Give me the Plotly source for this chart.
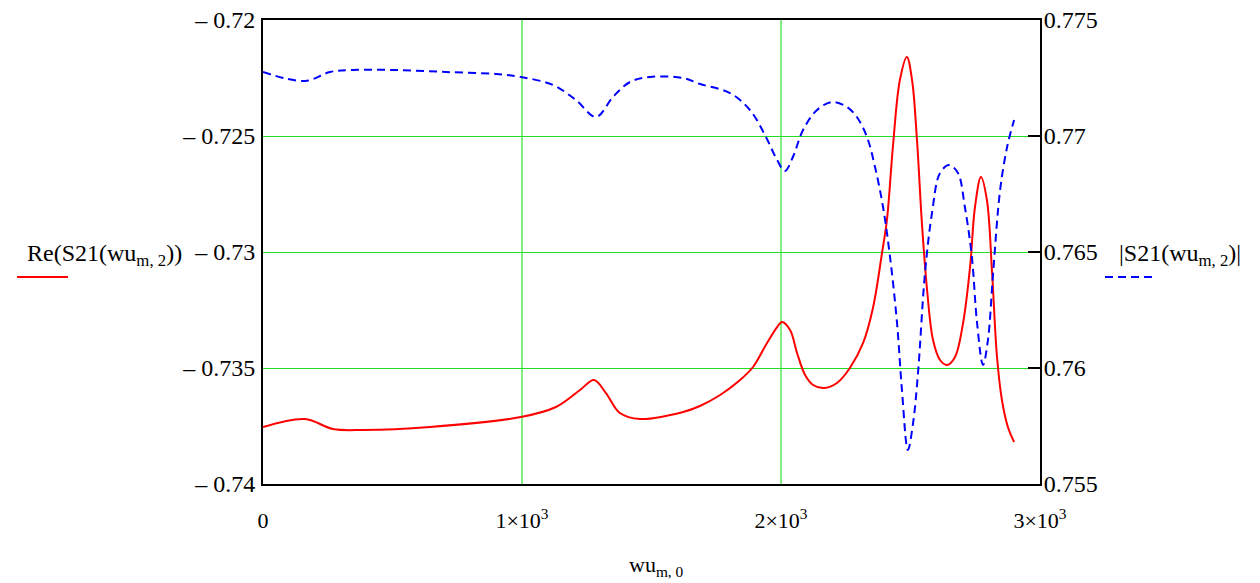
import plotly.graph_objects as go

# x values (wu_{m,0}) and Re(S21)
re_x = [0, 162, 270, 386, 645, 996, 1131, 1224, 1278, 1324, 1378, 1456, 1622, 1687, 1765,
        1842, 1892, 1946, 1985, 2004, 2035, 2062, 2093, 2124, 2166, 2216, 2266, 2317, 2355,
        2390, 2409, 2432, 2459, 2486, 2506, 2525, 2544, 2564, 2587, 2614, 2641, 2672, 2703,
        2730, 2749, 2772, 2795, 2815, 2834, 2853, 2876, 2900]
re_y = [-0.737543, -0.737198, -0.737629, -0.737672, -0.737543, -0.737112, -0.736681,
        -0.735948, -0.735517, -0.736078, -0.736940, -0.737198, -0.736897, -0.736638,
        -0.736164, -0.735517, -0.734957, -0.733922, -0.733233, -0.733017, -0.733362,
        -0.734353, -0.735302, -0.735733, -0.735862, -0.735647, -0.735000, -0.733922,
        -0.732414, -0.730043, -0.728621, -0.725474, -0.722586, -0.721595, -0.722586,
        -0.725172, -0.728750, -0.731638, -0.733793, -0.734655, -0.734871, -0.734526,
        -0.733060, -0.730647, -0.728060, -0.726767, -0.727759, -0.730905, -0.734526,
        -0.736379, -0.737543, -0.738190]

# |S21|
ab_x = [0, 162, 259, 347, 514, 707, 900, 996, 1120, 1208, 1286, 1351, 1417, 1494, 1622,
        1687, 1803, 1880, 1938, 1985, 2015, 2046, 2085, 2139, 2197, 2255, 2293, 2332, 2363,
        2394, 2421, 2448, 2467, 2490, 2510, 2529, 2556, 2583, 2614, 2649, 2683, 2710, 2737,
        2757, 2780, 2799, 2819, 2846, 2873, 2900]
ab_y = [0.772759, 0.772371, 0.772759, 0.772845, 0.772845, 0.772759, 0.772672, 0.772543,
        0.772198, 0.771552, 0.770819, 0.771681, 0.772328, 0.772543, 0.772500, 0.772241,
        0.771853, 0.771121, 0.770043, 0.768966, 0.768491, 0.769095, 0.770259, 0.771121,
        0.771466, 0.771250, 0.770819, 0.769957, 0.768664, 0.766940, 0.764784, 0.761940,
        0.759052, 0.756466, 0.757629, 0.759784, 0.764095, 0.766681, 0.768405, 0.768750,
        0.768405, 0.766940, 0.764784, 0.761940, 0.760129, 0.761207, 0.764095, 0.767672,
        0.769526, 0.770690]

x_ticks = [0, 1000, 2000, 3000]
x_ticktext = ["0", "1×10<sup>3</sup>", "2×10<sup>3</sup>", "3×10<sup>3</sup>"]
y1_ticks = [-0.74, -0.735, -0.73, -0.725, -0.72]
y1_ticktext = ["– 0.74", "– 0.735", "– 0.73", "– 0.725", "– 0.72"]
y2_ticks = [0.755, 0.76, 0.765, 0.77, 0.775]
y2_ticktext = ["0.755", "0.76", "0.765", "0.77", "0.775"]

FONT = "Liberation Serif"

fig = go.Figure()
fig.add_trace(go.Scatter(x=re_x, y=re_y, mode="lines",
                         line=dict(color="#ff0000", width=2, shape="spline", smoothing=1.0),
                         yaxis="y", showlegend=False, hoverinfo="skip"))
fig.add_trace(go.Scatter(x=ab_x, y=ab_y, mode="lines",
                         line=dict(color="#0000ff", width=2, dash="8px,5px", shape="spline", smoothing=1.0),
                         yaxis="y2", showlegend=False, hoverinfo="skip"))

fig.update_layout(
    width=1260, height=583,
    margin=dict(l=263, r=220, t=20, b=99, autoexpand=False),
    paper_bgcolor="white", plot_bgcolor="white",
    font=dict(family=FONT, size=22, color="black"),
    xaxis=dict(range=[0, 3000], tickvals=x_ticks, ticktext=x_ticktext,
               showgrid=True, gridcolor="#80ee80", gridwidth=2,
               showline=True, linecolor="black", linewidth=2, mirror=True,
               ticks="", zeroline=False, ticklabelstandoff=16,
               tickfont=dict(family=FONT, size=22)),
    yaxis=dict(range=[-0.74, -0.72], tickvals=y1_ticks, ticktext=y1_ticktext,
               showgrid=True, gridcolor="#22dd22", gridwidth=1,
               showline=True, linecolor="black", linewidth=2, mirror=True,
               ticks="", zeroline=False, ticklabelstandoff=1,
               tickfont=dict(family=FONT, size=24)),
    yaxis2=dict(range=[0.755, 0.775], tickvals=y2_ticks, ticktext=y2_ticktext,
                overlaying="y", side="right", showgrid=False, zeroline=False,
                showline=True, linecolor="black", linewidth=2,
                ticks="inside", ticklen=12, tickwidth=2, tickcolor="black",
                ticklabelstandoff=-3,
                tickfont=dict(family=FONT, size=24)),
)

fig.add_annotation(text="Re(S21(wu<sub>m, 2</sub>))", xref="paper", yref="paper",
                   x=(104 - 263) / 777, y=(484 - 255) / 464, showarrow=False,
                   xanchor="center", yanchor="middle",
                   font=dict(family=FONT, size=24, color="black"))
fig.add_annotation(text="|S21(wu<sub>m, 2</sub>)|", xref="paper", yref="paper",
                   x=(1180 - 263) / 777, y=(484 - 255) / 464, showarrow=False,
                   xanchor="center", yanchor="middle",
                   font=dict(family=FONT, size=24, color="black"))
fig.add_annotation(text="wu<sub>m, 0</sub>", xref="paper", yref="paper",
                   x=(656 - 263) / 777, y=(484 - 566) / 464, showarrow=False,
                   xanchor="center", yanchor="middle",
                   font=dict(family=FONT, size=22, color="black"))

fig.add_shape(type="line", xref="paper", yref="paper",
              x0=(17 - 263) / 777, x1=(68 - 263) / 777,
              y0=(484 - 277) / 464, y1=(484 - 277) / 464,
              line=dict(color="#ff0000", width=2))
fig.add_shape(type="line", xref="paper", yref="paper",
              x0=(1105 - 263) / 777, x1=(1157 - 263) / 777,
              y0=(484 - 277) / 464, y1=(484 - 277) / 464,
              line=dict(color="#0000ff", width=2, dash="8px,5px"))

fig.write_html("out.html", config={"displayModeBar": False},
               post_script="document.body.style.margin='0px';")
